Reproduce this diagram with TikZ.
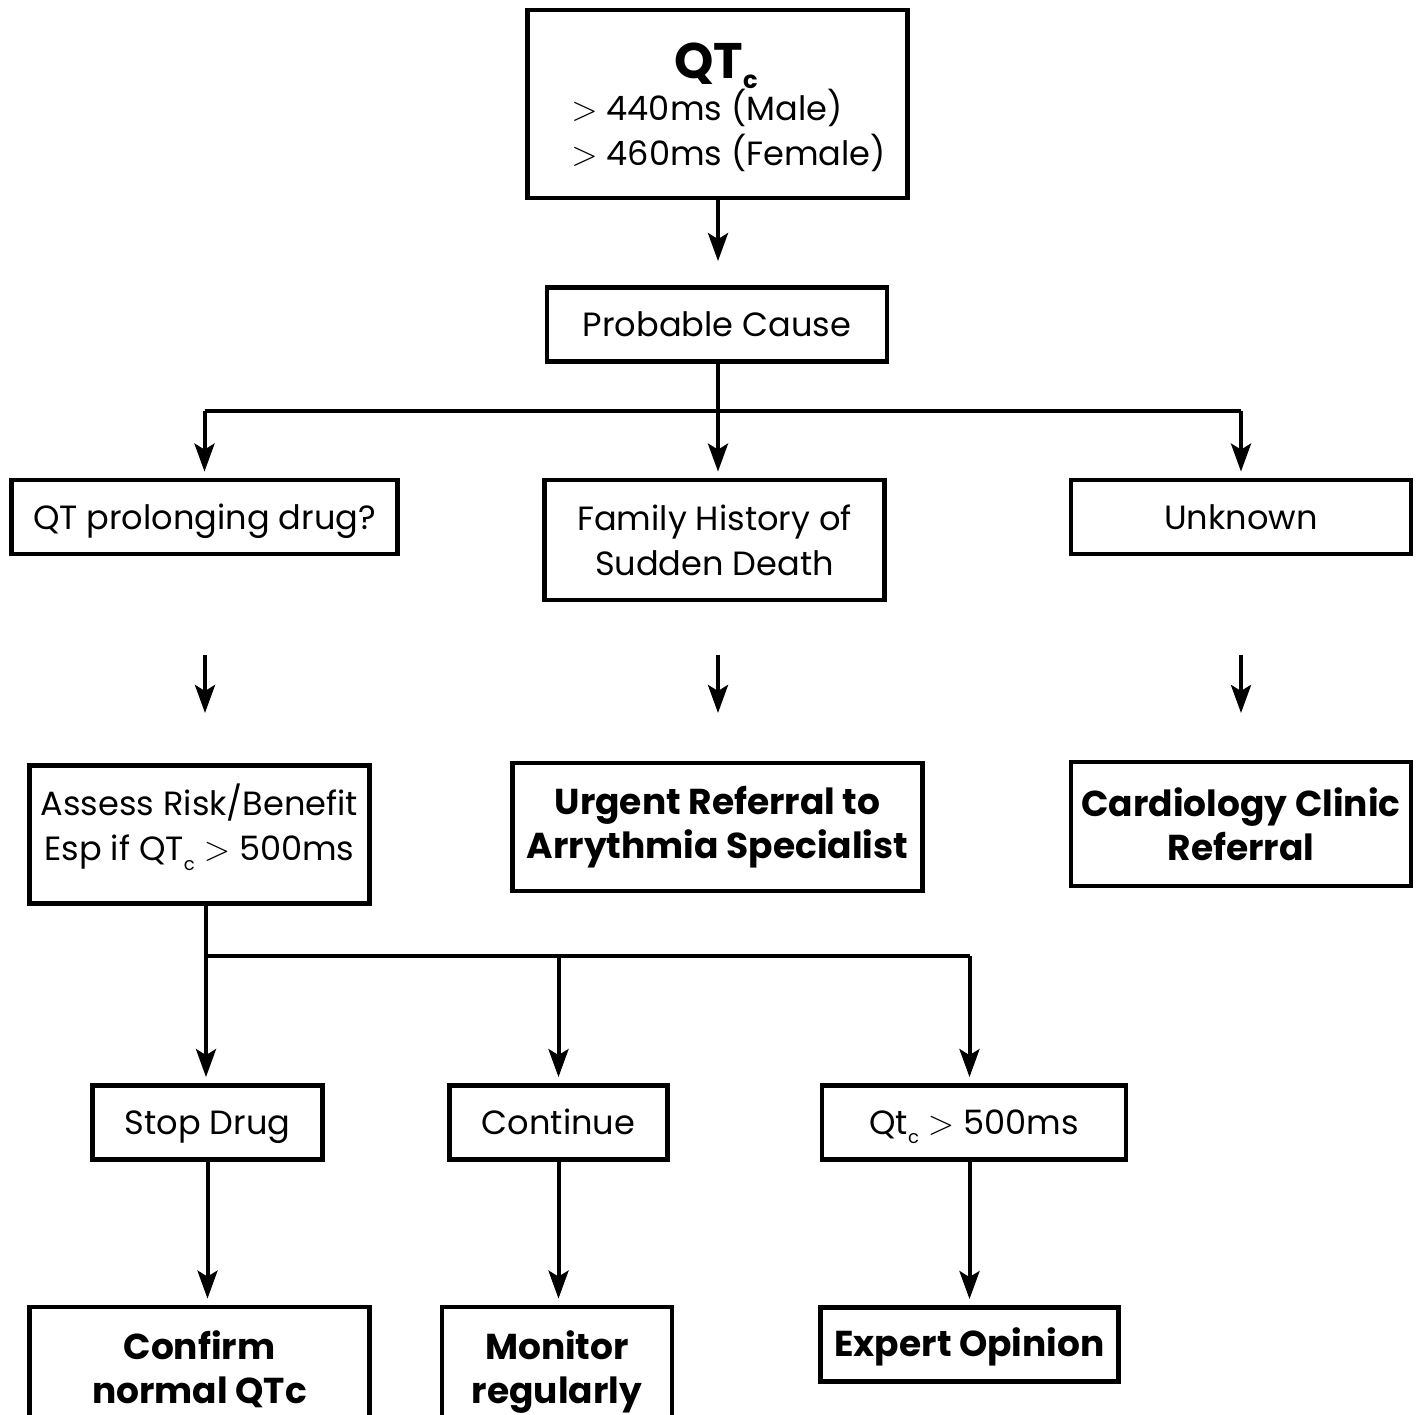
\documentclass[tikz,border=0pt]{standalone}
\usepackage{fontspec}
\setmainfont{Poppins}
\usetikzlibrary{arrows.meta}
\newcommand{\gtsym}{\ensuremath{>}}
\begin{document}
\begin{tikzpicture}[x=0.5pt,y=-0.5pt,
  box/.style={draw, line width=2.4pt, inner sep=0pt, align=center,
    font=\fontsize{16.8}{22.5}\selectfont},
  one/.style={text height=12pt, text depth=0pt},
  bbox/.style={box, font=\fontsize{18}{22}\selectfont\bfseries},
  txt/.style={inner sep=0pt, align=center, font=\fontsize{16.8}{22.5}\selectfont},
  ln/.style={line width=2pt},
  arr/.style={ln, -{Stealth[length=14pt,width=10pt,inset=3pt]}}]
\clip (0,0) rectangle (1419,1414);
% boxes
\node[box, minimum width=190pt, minimum height=94pt] (top) at (717.5,104) {};
\node[txt, anchor=base, font=\fontsize{25}{25}\selectfont\bfseries] (topq) at (716,78) {QT\raisebox{-5pt}{\fontsize{12}{12}\selectfont c}};
\node[txt, anchor=west, align=left] (topl) at (571,130) {\gtsym{} 440ms (Male)\\\gtsym{} 460ms (Female)};
\node[box, one, minimum width=170pt, minimum height=37pt] (prob) at (717,324.5) {Probable Cause};
\node[box, one, minimum width=193pt, minimum height=37pt] (drug) at (204.5,517) {QT prolonging drug?};
\node[box, minimum width=170pt, minimum height=60pt] (fam) at (714.5,540) {Family History of\\Sudden Death};
\node[box, one, minimum width=170pt, minimum height=37pt] (unk) at (1241,517) {Unknown};
\node[box, minimum width=170pt, minimum height=69pt] (assess) at (199.5,834.5) {Assess Risk/Benefit\\Esp if QT\raisebox{-0.5ex}{\fontsize{9}{9}\selectfont c} \gtsym{} 500ms\rule[-12pt]{0pt}{0pt}};
\node[bbox, minimum width=205pt, minimum height=64pt] (urg) at (717.5,827) {Urgent Referral to\\Arrythmia Specialist};
\node[bbox, minimum width=170pt, minimum height=62pt] (card) at (1241,824) {Cardiology Clinic\\Referral};
\node[box, one, minimum width=115pt, minimum height=37pt] (stop) at (207.5,1122.5) {Stop Drug};
\node[box, one, minimum width=109pt, minimum height=37pt] (cont) at (558.5,1122.5) {Continue};
\node[box, one, minimum width=152pt, minimum height=37pt] (qtc) at (974,1122.5) {Qt\raisebox{-0.5ex}{\fontsize{9}{9}\selectfont c} \gtsym{} 500ms};
\node[bbox, minimum width=170pt, minimum height=65pt] (conf) at (199.5,1372) {Confirm\\normal QTc\vphantom{g}};
\node[bbox, minimum width=115pt, minimum height=65pt] (mon) at (557,1372) {Monitor\\regularly};
\node[bbox, one, minimum width=149pt, minimum height=37pt] (exp) at (969.5,1344.5) {Expert Opinion};
% coordinates
\coordinate (j1) at (718,411);
\coordinate (j2) at (206,956);
\coordinate (fa1) at (205,655); \coordinate (fb1) at (205,713);
\coordinate (fa2) at (718,655); \coordinate (fb2) at (718,713);
\coordinate (fa3) at (1241,655); \coordinate (fb3) at (1241,713);
% connectors
\draw[arr, shorten >=12pt] (top.south -| j1) -- (prob.north -| j1);
\draw[arr, shorten >=3pt] (prob.south -| j1) -- (fam.north -| j1);
\draw[ln] (drug.north |- j1) -- (unk.north |- j1);
\draw[arr, shorten >=3pt] (drug.north |- j1) -- (drug.north);
\draw[arr, shorten >=3pt] (unk.north |- j1) -- (unk.north);
\draw[arr] (fa1) -- (fb1);
\draw[arr] (fa2) -- (fb2);
\draw[arr] (fa3) -- (fb3);
\draw[ln] (assess.south -| j2) -- (j2);
\draw[ln] (j2) -- (j2 -| exp.north);
\draw[arr, shorten >=3pt] (j2) -- (stop.north -| j2);
\draw[arr, shorten >=3pt] (j2 -| cont.north) -- (cont.north);
\draw[arr, shorten >=3pt] (j2 -| exp.north) -- (qtc.north -| exp.north);
\draw[arr, shorten >=3pt] (stop.south) -- (stop.south |- conf.north);
\draw[arr, shorten >=3pt] (cont.south) -- (cont.south |- mon.north);
\draw[arr, shorten >=3pt] (qtc.south -| exp.north) -- (exp.north);
\end{tikzpicture}
\end{document}
